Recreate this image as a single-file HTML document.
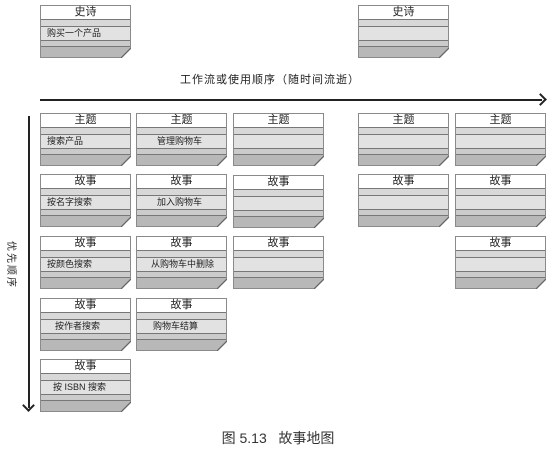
<!DOCTYPE html>
<html><head><meta charset="utf-8"><style>
body{margin:0;width:556px;height:458px;background:#fff;position:relative;overflow:hidden;font-family:"Liberation Sans","Noto Sans CJK SC",sans-serif;}
.c{position:absolute;width:91px;height:53px;border:1px solid #8a8a8a;box-sizing:border-box;
background:
linear-gradient(#fff 0,#fff 13px,#777 13px,#777 14px,#d8d8d8 14px,#d8d8d8 20px,#777 20px,#777 21px,#e2e2e2 21px,#e2e2e2 34px,#777 34px,#777 35px,#cbcbcb 35px,#cbcbcb 40px,#777 40px,#777 41px,#b8b8b8 41px);}
.c:after{content:"";position:absolute;right:-1px;bottom:-1px;width:10px;height:10px;background:linear-gradient(to bottom right,transparent 44%,#666 47%,#666 53%,#fff 56%);}
.t{position:absolute;top:0;left:0;right:0;text-align:center;font-size:11px;line-height:13px;color:#222;}
.s{position:absolute;top:21px;left:6px;font-size:9px;line-height:13px;color:#222;}
.x{position:absolute;font-size:11px;color:#222;}
</style></head><body>
<div class="c" style="left:40px;top:5px"><div class="t">史诗</div><div class="s">购买一个产品</div></div>
<div class="c" style="left:358px;top:5px"><div class="t">史诗</div></div>
<div class="x" style="left:180px;top:71px;letter-spacing:1px">工作流或使用顺序（随时间流逝）</div>
<div style="position:absolute;left:40px;top:99px;width:502px;height:2px;background:#222"></div>
<div style="position:absolute;left:536px;top:95px;width:7px;height:7px;border-right:2px solid #222;border-top:2px solid #222;transform:rotate(45deg)"></div>
<div style="position:absolute;left:28px;top:116px;width:2px;height:292px;background:#222"></div>
<div style="position:absolute;left:24px;top:401px;width:7px;height:7px;border-right:2px solid #222;border-bottom:2px solid #222;transform:rotate(45deg)"></div>
<div class="x" style="left:-15px;top:259px;width:50px;text-align:center;font-size:10px;line-height:12px;letter-spacing:2px;transform:rotate(90deg);white-space:nowrap">优先顺序</div>

<div class="c" style="left:40px;top:113px"><div class="t">主题</div><div class="s">搜索产品</div></div>
<div class="c" style="left:136px;top:113px"><div class="t">主题</div><div class="s" style="left:20px">管理购物车</div></div>
<div class="c" style="left:233px;top:113px"><div class="t">主题</div></div>
<div class="c" style="left:358px;top:113px"><div class="t">主题</div></div>
<div class="c" style="left:455px;top:113px"><div class="t">主题</div></div>

<div class="c" style="left:40px;top:174px"><div class="t">故事</div><div class="s">按名字搜索</div></div>
<div class="c" style="left:136px;top:174px"><div class="t">故事</div><div class="s" style="left:20px">加入购物车</div></div>
<div class="c" style="left:233px;top:175px"><div class="t">故事</div></div>
<div class="c" style="left:358px;top:174px"><div class="t">故事</div></div>
<div class="c" style="left:455px;top:174px"><div class="t">故事</div></div>

<div class="c" style="left:40px;top:236px"><div class="t">故事</div><div class="s">按颜色搜索</div></div>
<div class="c" style="left:136px;top:236px"><div class="t">故事</div><div class="s" style="left:14px">从购物车中删除</div></div>
<div class="c" style="left:233px;top:236px"><div class="t">故事</div></div>
<div class="c" style="left:455px;top:236px"><div class="t">故事</div></div>

<div class="c" style="left:40px;top:298px"><div class="t">故事</div><div class="s" style="left:14px">按作者搜索</div></div>
<div class="c" style="left:136px;top:298px"><div class="t">故事</div><div class="s" style="left:16px">购物车结算</div></div>

<div class="c" style="left:40px;top:359px"><div class="t">故事</div><div class="s" style="left:12px">按 ISBN 搜索</div></div>

<div class="x" style="left:0;right:0;top:428px;text-align:center;font-size:14px;color:#333">图 5.13&nbsp;&nbsp;&nbsp;故事地图</div>
</body></html>
